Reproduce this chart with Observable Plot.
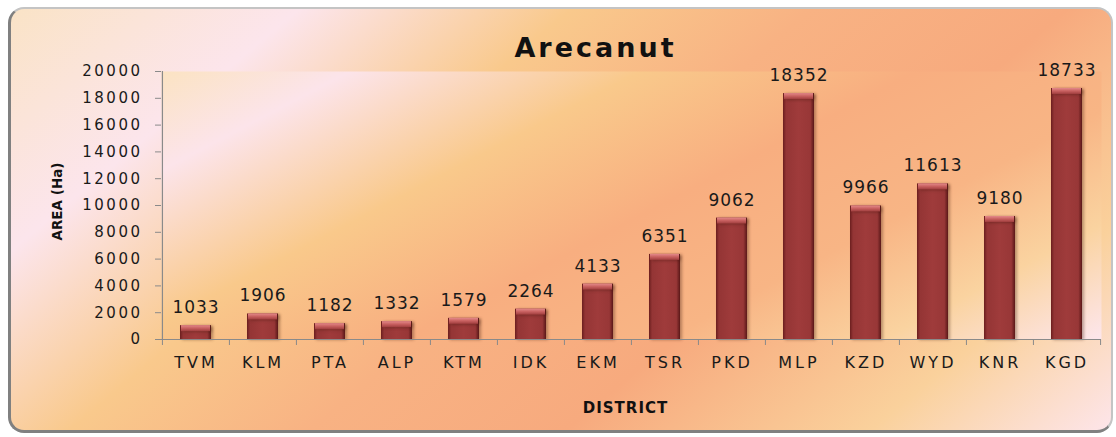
<!DOCTYPE html>
<html>
<head>
<meta charset="utf-8">
<script src="https://cdn.jsdelivr.net/npm/d3@7"></script>
<script src="https://cdn.jsdelivr.net/npm/@observablehq/plot@0.6"></script>
<style>
  html, body { margin: 0; padding: 0; background: #ffffff; }
  #wrap { position: relative; width: 1116px; height: 437px; overflow: hidden; }
  #bg {
    position: absolute; left: 8px; top: 7px; width: 1100px; height: 421px;
    border-radius: 16px;
    border-top: 2px solid #c4c4c4; border-right: 2px solid #c4c4c4;
    border-left: 3px solid #808080; border-bottom: 3px solid #808080;
    background: linear-gradient(140deg, #fae3c6 0%, #fce5ec 18%, #f9c98c 35%, #f8b283 50%, #f7aa7e 66%, #fad19c 85%, #fde5ea 100%);
  }
  #chart { position: absolute; left: 0; top: 0; }
</style>
</head>
<body>
<div id="wrap"><div id="bg"></div><div id="chart"></div></div>
<script>
const districts = ["TVM","KLM","PTA","ALP","KTM","IDK","EKM","TSR","PKD","MLP","KZD","WYD","KNR","KGD"];
const areas = [1033,1906,1182,1332,1579,2264,4133,6351,9062,18352,9966,11613,9180,18733];
const yTicks = [0,2000,4000,6000,8000,10000,12000,14000,16000,18000,20000];
const chartTitle = "Arecanut";
const xTitle = "DISTRICT";
const yTitle = "AREA (Ha)";

const data = districts.map((d, i) => ({district: d, area: areas[i]}));

const W = 1116, H = 437;
const mL = 161, mR = 15, mT = 71, mB = 98;
const step = (W - mL - mR) / districts.length;
const barInset = 18;
const font = "DejaVu Sans, Verdana, sans-serif";
const axisGray = "#8a8a8a";

const svg = Plot.plot({
  width: W, height: H,
  marginLeft: mL, marginRight: mR, marginTop: mT, marginBottom: mB,
  style: {background: "transparent", fontFamily: font, overflow: "visible"},
  x: {type: "band", domain: districts, padding: 0},
  y: {domain: [0, 20000]},
  marks: [
    Plot.frame({fill: "url(#plotGrad)", stroke: "none"}),
    // bars
    Plot.barY(data, {x: "district", y: "area", fill: "url(#barGrad)", insetLeft: barInset, insetRight: barInset}),
    // top bevel
    Plot.barY(data, {x: "district", y1: "area", y2: "area", insetBottom: -6, insetLeft: barInset + 1, insetRight: barInset + 1, fill: "url(#bevelGrad)"}),
    // axis lines
    Plot.ruleY([0], {stroke: axisGray, strokeWidth: 1.2}),
    Plot.ruleX([districts[0]], {y1: 0, y2: 20000, dx: -step / 2, stroke: axisGray, strokeWidth: 1.2}),
    // y axis
    Plot.axisY(yTicks, {tickSize: 6, tickPadding: 13, stroke: axisGray, fill: "#1a1a1a", fontSize: 15, label: null, tickFormat: d => String(d)}),
    // x labels
    Plot.axisX({tickSize: 0, tickPadding: 17, fill: "#1a1a1a", fontSize: 16, label: null}),
    // x ticks at category boundaries
    Plot.axisX(districts, {tickSize: 6, tickFormat: () => "", dx: -step / 2, stroke: axisGray, label: null}),
    Plot.axisX([districts[districts.length - 1]], {tickSize: 6, tickFormat: () => "", dx: step / 2, stroke: axisGray, label: null}),
    // value labels
    Plot.text(data, {x: "district", y: "area", text: d => String(d.area), dy: -18, fontSize: 17, fill: "#1a1a1a"}),
    // titles
    Plot.text([chartTitle], {frameAnchor: "top", textAnchor: "middle", lineAnchor: "middle", dx: -36, dy: -23, fontSize: 27, fontWeight: "bold", fill: "#111"}),
    Plot.text([xTitle], {frameAnchor: "bottom", textAnchor: "middle", lineAnchor: "middle", dx: -6, dy: 69, fontSize: 15, fontWeight: "bold", fill: "#111"}),
    Plot.text([yTitle], {frameAnchor: "left", textAnchor: "middle", lineAnchor: "middle", dx: -104, dy: -4, rotate: -90, fontSize: 13.5, fontWeight: "bold", fill: "#111"})
  ]
});

const s = d3.select(svg);
const defs = s.insert("defs", ":first-child");
const plotGrad = defs.append("linearGradient").attr("id", "plotGrad")
  .attr("gradientUnits", "userSpaceOnUse")
  .attr("x1", mL).attr("y1", mT).attr("x2", 473).attr("y2", 667);
[[0, "#fbe3c2"], [0.13, "#fce4ea"], [0.33, "#f9c98b"], [0.52, "#f8ae80"], [0.7, "#f8b585"], [0.85, "#fad3a0"], [1, "#fde6ec"]]
  .forEach(([o, c]) => plotGrad.append("stop").attr("offset", o).attr("stop-color", c));
const barGrad = defs.append("linearGradient").attr("id", "barGrad").attr("x1", 0).attr("y1", 0).attr("x2", 1).attr("y2", 0);
[[0, "#6a1e1e"], [0.1, "#943535"], [0.5, "#9f3b3b"], [0.88, "#983737"], [1, "#5a1818"]]
  .forEach(([o, c]) => barGrad.append("stop").attr("offset", o).attr("stop-color", c));
const bevelGrad = defs.append("linearGradient").attr("id", "bevelGrad").attr("x1", 0).attr("y1", 0).attr("x2", 0).attr("y2", 1);
[[0, "#e48a8a"], [0.5, "#c86060"], [1, "#a03e3e"]]
  .forEach(([o, c]) => bevelGrad.append("stop").attr("offset", o).attr("stop-color", c));

s.selectAll('g[aria-label="bar"]').style("filter", "drop-shadow(2px 1px 1.5px rgba(60,20,10,0.35))");
// widen text a little, like the stretched original
s.selectAll('g[aria-label="y-axis tick label"]').style("letter-spacing", "2.5px");
s.selectAll('g[aria-label="x-axis tick label"]').style("letter-spacing", "3px");
const textGroups = s.selectAll('g[aria-label="text"]').nodes();
const spacing = ["1px", "3px", "1px", "0px"];
textGroups.forEach((g, i) => d3.select(g).style("letter-spacing", spacing[i] || "0px"));

document.getElementById("chart").appendChild(svg);
</script>
</body>
</html>
